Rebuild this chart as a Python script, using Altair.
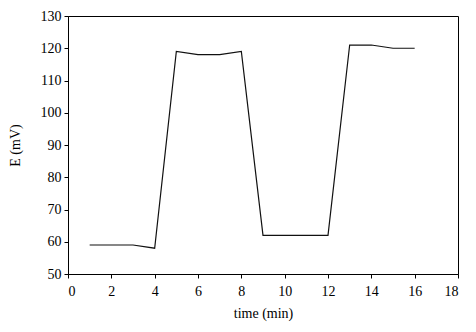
import altair as alt
import pandas as pd

time_min = list(range(1, 17))
e_mv = [59, 59, 59, 58, 119, 118, 118, 119, 62, 62, 62, 62, 121, 121, 120, 120]

df = pd.DataFrame({"t": time_min, "E": e_mv})

FONT = "Liberation Serif, Times New Roman, serif"

chart = alt.Chart(df).mark_line(color="#111111", strokeWidth=1.2).encode(
    x=alt.X("t:Q", scale=alt.Scale(domain=[0, 18], nice=False, zero=False),
            axis=alt.Axis(values=list(range(0, 19, 2)), title="time (min)", grid=False,
                          tickSize=4, labelPadding=6, titlePadding=8)),
    y=alt.Y("E:Q", scale=alt.Scale(domain=[50, 130], nice=False, zero=False),
            axis=alt.Axis(values=list(range(50, 131, 10)), title="E (mV)", grid=False,
                          tickSize=4, labelPadding=3, titlePadding=18)),
).properties(
    width=390, height=258,
    background="white",
    autosize=alt.AutoSizeParams(type="none"),
    padding={"left": 60, "top": 8, "right": 10, "bottom": 50},
).configure_view(
    stroke="black", strokeWidth=1
).configure_axis(
    domainColor="black", tickColor="black", labelColor="black", titleColor="black",
    labelFont=FONT, titleFont=FONT, labelFontSize=14, titleFontSize=14,
    titleFontWeight="normal", domainWidth=1, tickWidth=1
)

chart.save("out.html", embed_options={"renderer": "svg", "actions": False})
